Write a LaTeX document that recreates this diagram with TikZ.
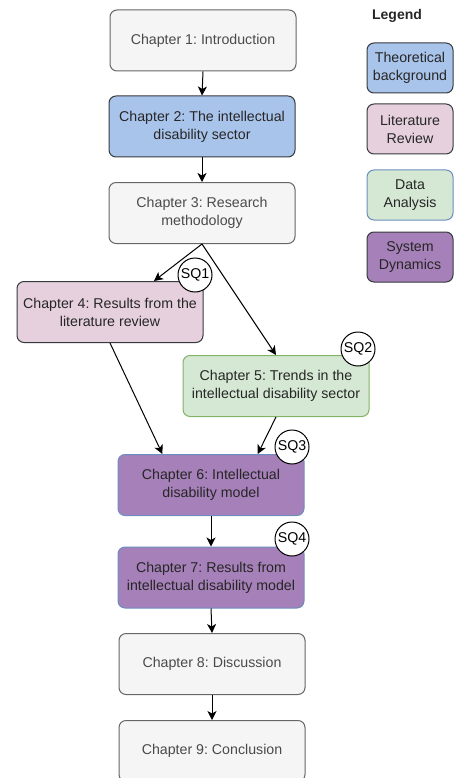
\documentclass[tikz,border=0pt]{standalone}
\usepackage{fontspec}
\setmainfont{Liberation Sans}
\usetikzlibrary{arrows.meta,calc}
\frenchspacing

\definecolor{grayfill}{HTML}{F5F5F5}
\definecolor{graystroke}{HTML}{666666}
\definecolor{graytext}{HTML}{4A4A4A}
\definecolor{bluefill}{HTML}{A9C4EB}
\definecolor{pinkfill}{HTML}{E6D0DE}
\definecolor{greenfill}{HTML}{D5E8D4}
\definecolor{greenstroke}{HTML}{82B366}
\definecolor{purplefill}{HTML}{A680B8}
\definecolor{bluestroke}{HTML}{6C8EBF}
\definecolor{darkstroke}{HTML}{36393D}
\definecolor{darktext}{HTML}{262626}

\tikzset{
  chapter/.style={rectangle, rounded corners=7pt, line width=1pt,
    minimum width=186pt, minimum height=61pt, align=center,
    font=\fontsize{14.2}{18}\selectfont, text=darktext, inner sep=1pt},
  plain/.style={chapter, draw=graystroke, fill=grayfill, text=graytext},
  theory/.style={chapter, draw=darkstroke, fill=bluefill},
  litrev/.style={chapter, draw=darkstroke, fill=pinkfill},
  data/.style={chapter, draw=greenstroke, fill=greenfill},
  sysdyn/.style={chapter, draw=bluestroke, fill=purplefill},
  legendbox/.style={minimum width=86pt, minimum height=50pt},
  sq/.style={circle, draw=black, fill=white, line width=1pt,
    minimum size=34pt, inner sep=0pt, font=\fontsize{14.2}{17}\selectfont},
  flow/.style={-{Stealth[length=9pt,width=9pt,inset=2.5pt]}, line width=1pt, black},
}

\begin{document}
\begin{tikzpicture}[x=1pt,y=-1pt]
  \useasboundingbox (0,0) rectangle (457,778);
  \clip (0,0) rectangle (457,778);

  % chapter flow
  \node[plain]  (ch1) at (203,40.5)  {Chapter 1: Introduction};
  \node[theory] (ch2) at (202,126.5) {Chapter 2: The intellectual\\disability sector};
  \node[plain]  (ch3) at (202,213)   {Chapter 3: Research\\methodology};
  \node[litrev] (ch4) at (110,312)   {Chapter 4: Results from the\\literature review};
  \node[data]   (ch5) at (276,386)   {Chapter 5: Trends in the\\intellectual disability sector};
  \node[sysdyn] (ch6) at (211,485)   {Chapter 6: Intellectual\\disability model};
  \node[sysdyn] (ch7) at (211,577.5) {Chapter 7: Results from\\intellectual disability model};
  \node[plain]  (ch8) at (212,664)   {Chapter 8: Discussion};
  \node[plain]  (ch9) at (212,751)   {Chapter 9: Conclusion};

  % sub-question markers
  \node[sq] (sq1) at (195,275) {SQ1};
  \node[sq] (sq2) at (358,349) {SQ2};
  \node[sq] (sq3) at (292,447) {SQ3};
  \node[sq] (sq4) at (292,539) {SQ4};

  % connectors
  \draw[flow] (ch1.south) -- (ch2.north);
  \draw[flow] (ch2.south) -- (ch3.north);
  \draw[flow] (ch3.south) -- ($(ch4.north west)!0.735!(ch4.north east)$);
  \draw[flow] (ch3.south) -- (ch5.north);
  \draw[flow] (ch4.south) -- ($(ch6.north west)!0.24!(ch6.north east)$);
  \draw[flow] (ch5.south) -- ($(ch6.north west)!0.75!(ch6.north east)$);
  \draw[flow] (ch6.south) -- (ch7.north);
  \draw[flow] (ch7.south) -- (ch8.north);
  \draw[flow] (ch8.south) -- (ch9.north);

  % legend
  \node[font=\bfseries\fontsize{14}{16}\selectfont, text=darktext] (legend) at (397,16) {Legend};
  \node[theory, legendbox] (lg1) at (410,68)  {Theoretical\\background};
  \node[litrev, legendbox] (lg2) at (410,129) {Literature\\Review};
  \node[chapter, legendbox, draw=bluestroke, fill=greenfill] (lg3) at (410,195) {Data\\Analysis};
  \node[chapter, legendbox, draw=darkstroke, fill=purplefill] (lg4) at (410,257) {System\\Dynamics};
\end{tikzpicture}
\end{document}
